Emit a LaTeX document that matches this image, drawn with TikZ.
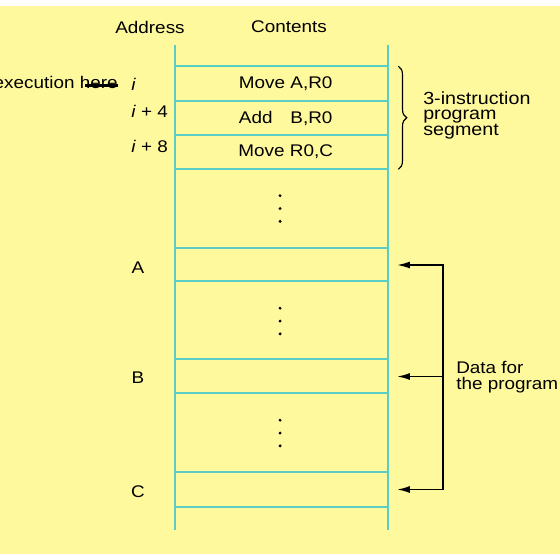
\documentclass[tikz,border=0pt]{standalone}
\usepackage{fontspec}
\setmainfont{Liberation Sans}[FakeStretch=1.12]
\usetikzlibrary{arrows.meta,decorations.pathreplacing,positioning}
\definecolor{memyellow}{RGB}{255,249,158}
\definecolor{memline}{RGB}{88,206,196}

\begin{document}
\begin{tikzpicture}[
  cell/.style={rectangle,minimum width=5.325cm,minimum height=0.85cm,
               inner sep=0pt,font=\fontsize{12}{14}\selectfont},
  gap/.style={cell,minimum height=1.975cm},
  lbl/.style={inner sep=0pt,font=\fontsize{12}{14}\selectfont},
  memln/.style={memline,line width=1.2pt},
  ptr/.style={-{Latex[length=9pt,width=5pt]},line width=1pt}]
\useasboundingbox (0,0) rectangle (14,-13.85);
\fill[memyellow] (0,-0.15) rectangle (14,-13.85);
% column heads
\node[lbl] (hadr) at (3.75,-0.675) {Address};
\node[lbl] (hcon) at (7.225,-0.675) {Contents};
% memory words
\node[cell] (m1) at (7.0375,-2.0875) {\hspace{6pt}Move A,R0};
\node[cell] (m2) at (7.0375,-2.95)   {\hspace{6pt}\rlap{Add}\phantom{Move} B,R0};
\node[cell] (m3) at (7.0375,-3.8)    {\hspace{6pt}Move R0,C};
\node[gap]  (g1) at (7.0375,-5.2125) {};
\node[cell] (cA) at (7.0375,-6.625)  {};
\node[gap]  (g2) at (7.0375,-8.025)  {};
\node[cell] (cB) at (7.0375,-9.4125) {};
\node[gap]  (g3) at (7.0375,-10.825) {};
\node[cell] (cC) at (7.0375,-12.2375) {};
\foreach \c in {m1,m2,m3,g1,cA,g2,cB,g3,cC}
  \draw[memln] (\c.north west) -- (\c.north east);
\draw[memln] (cC.south west) -- (cC.south east);
\draw[memln] (4.375,-1.125) -- (4.375,-13.25);
\draw[memln] (9.7,-1.125) -- (9.7,-13.25);
\foreach \g in {g1,g2,g3}
  \foreach \d in {-0.32,0,0.32}
    \fill ([xshift=-1pt,yshift=\d cm]\g.center) circle (0.04);
% addresses
\node[lbl,anchor=west] (ai)  at (3.275,-2.1) {\textit{i}};
\node[lbl,anchor=west] (ai4) at (3.275,-2.78) {\textit{i} + 4};
\node[lbl,anchor=west] (ai8) at (3.275,-3.65) {\textit{i} + 8};
\node[lbl] (aA) at (3.45,-6.7)  {A};
\node[lbl] (aB) at (3.45,-9.43) {B};
\node[lbl] (aC) at (3.45,-12.3) {C};
\node[lbl,anchor=east] (exe) at (2.95,-2.1) {Begin execution here};
\draw[line width=2pt] ([xshift=-0.825cm,yshift=-1pt]exe.east) -- ([yshift=-1pt]exe.east);
% program segment
\draw[decorate,decoration={brace,amplitude=6pt},line width=0.8pt]
  ([xshift=0.25cm]m1.north east) -- ([xshift=0.25cm]m3.south east);
\node[lbl,anchor=west,align=left,font=\fontsize{12.5}{10.6}\selectfont] (seg)
  at (10.575,-2.89) {3-instruction\\program\\segment};
% data pointers
\coordinate (bus) at (11.075,0);
\draw[{Latex[length=9pt,width=5pt]}-{Latex[length=9pt,width=5pt]},line width=1pt]
  ([xshift=0.225cm]cA.east) -- (cA.east -| bus) -- (cC.east -| bus)
  -- ([xshift=0.225cm]cC.east);
\draw[ptr] (cB.east -| bus) -- ([xshift=0.225cm]cB.east);
\node[lbl,anchor=west,align=left,font=\fontsize{12}{10.8}\selectfont] (dat)
  at (11.4,-9.43) {Data for\\the program};
\end{tikzpicture}
\end{document}
